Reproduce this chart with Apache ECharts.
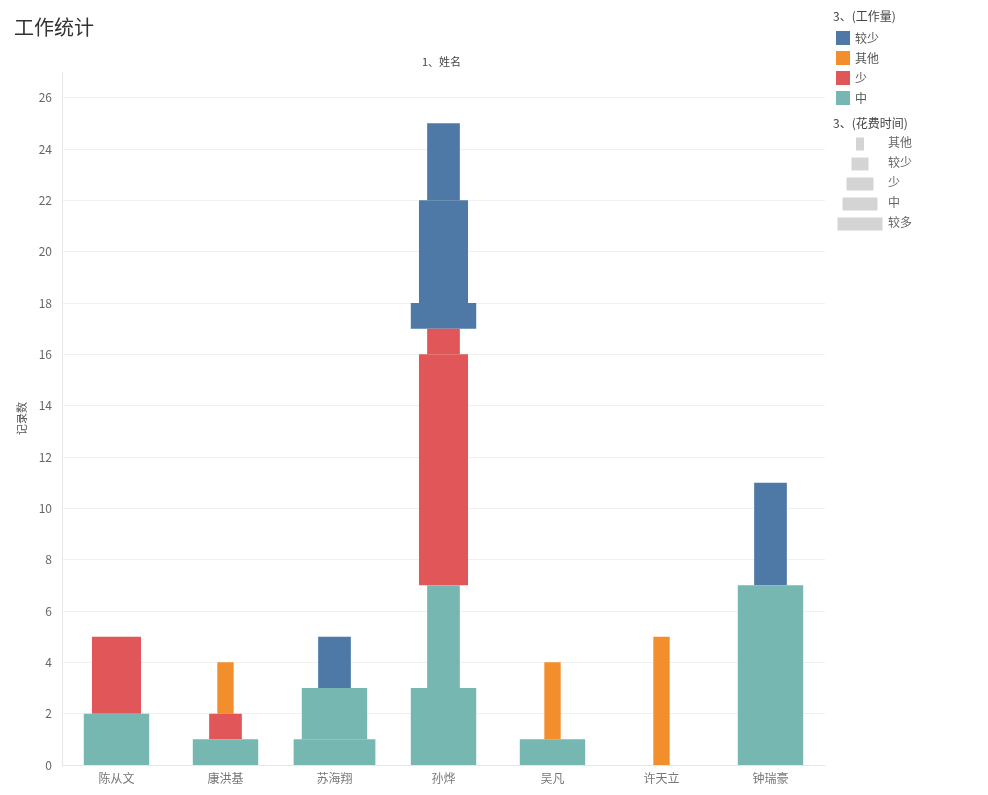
<!DOCTYPE html>
<html>
<head>
<meta charset="utf-8">
<script src="https://cdn.jsdelivr.net/npm/echarts@6/dist/echarts.min.js"></script>
<style>html,body{margin:0;padding:0;background:#fff}#c{width:988px;height:795px}</style>
</head>
<body>
<div id="c"></div>
<script>
const names = ['陈从文','康洪基','苏海翔','孙烨','吴凡','许天立','钟瑞豪'];
const workLevels = ['较少','其他','少','中'];
const timeLevels = ['其他','较少','少','中','较多'];
const yTicks = [0,2,4,6,8,10,12,14,16,18,20,22,24,26];
// segments, bottom to top within each person
const segName  = ['陈从文','陈从文','康洪基','康洪基','康洪基','苏海翔','苏海翔','苏海翔','孙烨','孙烨','孙烨','孙烨','孙烨','孙烨','孙烨','吴凡','吴凡','许天立','钟瑞豪','钟瑞豪'];
const segWork  = ['中','少','中','少','其他','中','中','较少','中','中','少','少','较少','较少','较少','中','其他','其他','中','较少'];
const segTime  = ['中','少','中','较少','其他','较多','中','较少','中','较少','少','较少','中','少','较少','中','其他','其他','中','较少'];
const segCount = [2,3,1,1,2,1,2,2,3,4,9,1,1,4,3,1,3,5,7,4];

const colors = {'较少':'#4e79a7','其他':'#f28e2b','少':'#e15759','中':'#76b7b2'};
const widthFrac = [0.15,0.3,0.45,0.6,0.75];
const FONT = '"Noto Sans CJK SC","Noto Sans",sans-serif';

const cum = {};
const seriesData = {};
workLevels.forEach(w => seriesData[w] = []);
segName.forEach((n, i) => {
  const s = cum[n] || 0;
  const e = s + segCount[i];
  cum[n] = e;
  seriesData[segWork[i]].push([names.indexOf(n), s, e, timeLevels.indexOf(segTime[i])]);
});

function renderItem(params, api) {
  const x = api.value(0), s = api.value(1), e = api.value(2), w = api.value(3);
  const p0 = api.coord([x, s]);
  const p1 = api.coord([x, e]);
  const band = api.size([1, 0])[0];
  const width = band * widthFrac[w];
  return {
    type: 'rect',
    shape: {x: p0[0] - width / 2, y: p1[1], width: width, height: p0[1] - p1[1]},
    style: {fill: api.visual('color')}
  };
}

const series = workLevels.map(w => ({
  name: w,
  type: 'custom',
  renderItem: renderItem,
  itemStyle: {color: colors[w]},
  encode: {x: 0, y: [1, 2]},
  data: seriesData[w]
}));

// size legend graphics
const legendW = [8, 17, 27, 35, 45];
const graphics = [
  {type:'text', left:14, top:17, style:{text:'工作统计', font:'20px ' + FONT, fill:'#333'}},
  {type:'text', left:422, top:56, style:{text:'1、姓名', font:'11px ' + FONT, fill:'#444'}},
  {type:'text', left:833, top:10, style:{text:'3、(工作量)', font:'12px ' + FONT, fill:'#444'}},
  {type:'text', left:833, top:117, style:{text:'3、(花费时间)', font:'12px ' + FONT, fill:'#444'}}
];
timeLevels.forEach((t, i) => {
  const cy = 144 + i * 20;
  graphics.push({type:'rect', shape:{x: 860 - legendW[i] / 2, y: cy - 6.5, width: legendW[i], height: 13}, style:{fill:'#d4d4d4'}});
  graphics.push({type:'text', left: 888, top: cy - 8, style:{text: t, font:'12px ' + FONT, fill:'#666'}});
});

const splitColors = yTicks.map(() => '#f0f0f0').concat(['rgba(0,0,0,0)']);

const chart = echarts.init(document.getElementById('c'));
chart.setOption({
  animation: false,
  textStyle: {fontFamily: FONT},
  grid: {left: 62, right: 163, top: 72, bottom: 30},
  legend: {
    data: workLevels, orient: 'vertical', left: 836, top: 31, padding: 0,
    icon: 'rect', itemWidth: 14, itemHeight: 14, itemGap: 6,
    textStyle: {fontSize: 12, color: '#555', fontFamily: FONT}
  },
  xAxis: {
    type: 'category', data: names,
    axisTick: {show: false},
    axisLine: {lineStyle: {color: '#e6e6e6'}},
    axisLabel: {color: '#777', fontSize: 12, margin: 7}
  },
  yAxis: {
    type: 'value', min: 0, max: 27, interval: 2,
    name: '记录数', nameLocation: 'middle', nameGap: 33, nameRotate: 90,
    nameTextStyle: {color: '#555', fontSize: 11},
    axisLine: {show: true, lineStyle: {color: '#e6e6e6'}},
    axisTick: {show: false},
    axisLabel: {color: '#666', fontSize: 12, margin: 10, showMaxLabel: false},
    splitLine: {lineStyle: {color: splitColors}}
  },
  graphic: graphics,
  series: series
});
</script>
</body>
</html>
